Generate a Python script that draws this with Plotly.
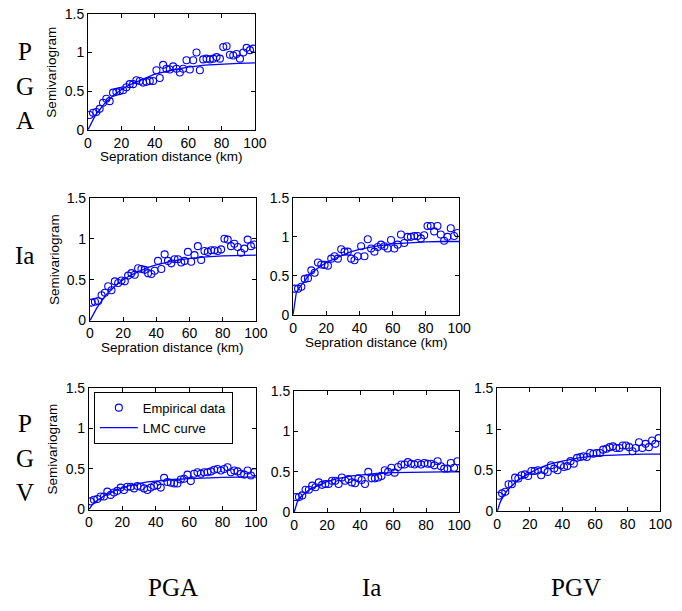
import plotly.graph_objects as go

# Lag distances (km) of the empirical semivariogram bins
lag_km = [1, 3, 5, 7, 9, 11, 13, 15, 17, 19, 21, 23, 25, 27, 29, 31, 33, 35, 37, 39,
          41, 43, 45, 47, 49, 51, 53, 55, 57, 59, 61, 63, 65, 67, 69, 71, 73, 75, 77, 79,
          81, 83, 85, 87, 89, 91, 93, 95, 97, 99]

# Empirical (cross-)semivariogram values
emp_pga_pga = [0.19, 0.22, 0.23, 0.27, 0.35, 0.40, 0.37, 0.48, 0.49, 0.50,
               0.51, 0.55, 0.59, 0.59, 0.64, 0.63, 0.61, 0.62, 0.63, 0.63,
               0.77, 0.67, 0.84, 0.79, 0.78, 0.82, 0.79, 0.74, 0.79, 0.90,
               0.78, 0.90, 1.00, 0.77, 0.91, 0.92, 0.91, 0.92, 0.94, 0.92,
               1.07, 1.08, 0.97, 0.96, 0.98, 0.92, 1.00, 1.06, 1.03, 1.05]
emp_ia_pga = [0.22, 0.23, 0.24, 0.31, 0.34, 0.42, 0.37, 0.48, 0.46, 0.49,
              0.48, 0.55, 0.58, 0.56, 0.64, 0.63, 0.62, 0.58, 0.57, 0.61,
              0.73, 0.63, 0.81, 0.73, 0.70, 0.75, 0.75, 0.71, 0.73, 0.84,
              0.72, 0.80, 0.91, 0.74, 0.85, 0.84, 0.86, 0.86, 0.85, 0.87,
              1.00, 0.99, 0.91, 0.94, 0.90, 0.83, 0.88, 0.99, 0.91, 0.93]
emp_ia_ia = [0.335, 0.335, 0.36, 0.46, 0.47, 0.57, 0.54, 0.67, 0.645, 0.64,
             0.63, 0.72, 0.75, 0.72, 0.84, 0.81, 0.81, 0.72, 0.70, 0.75,
             0.88, 0.75, 0.97, 0.85, 0.81, 0.87, 0.90, 0.88, 0.85, 0.96,
             0.85, 0.90, 1.03, 0.92, 1.00, 1.00, 1.01, 1.01, 0.98, 1.02,
             1.14, 1.14, 1.07, 1.14, 1.03, 0.95, 1.00, 1.11, 1.01, 1.05]
emp_pgv_pga = [0.10, 0.12, 0.13, 0.16, 0.16, 0.22, 0.18, 0.21, 0.23, 0.27,
               0.24, 0.28, 0.28, 0.26, 0.29, 0.28, 0.26, 0.24, 0.27, 0.29,
               0.30, 0.27, 0.39, 0.34, 0.33, 0.32, 0.32, 0.37, 0.38, 0.43,
               0.35, 0.44, 0.46, 0.44, 0.46, 0.46, 0.47, 0.49, 0.50, 0.48,
               0.50, 0.52, 0.46, 0.48, 0.47, 0.44, 0.43, 0.48, 0.42, 0.46]
emp_pgv_ia = [0.19, 0.19, 0.21, 0.28, 0.28, 0.33, 0.31, 0.37, 0.34, 0.35,
              0.35, 0.39, 0.39, 0.35, 0.43, 0.39, 0.41, 0.37, 0.36, 0.42,
              0.40, 0.35, 0.50, 0.42, 0.42, 0.43, 0.45, 0.52, 0.50, 0.55,
              0.49, 0.56, 0.59, 0.59, 0.62, 0.60, 0.59, 0.61, 0.59, 0.61,
              0.60, 0.60, 0.58, 0.63, 0.57, 0.54, 0.54, 0.61, 0.55, 0.63]
emp_pgv_pgv = [0.19, 0.22, 0.24, 0.33, 0.33, 0.41, 0.40, 0.44, 0.45, 0.43,
               0.49, 0.49, 0.50, 0.44, 0.50, 0.48, 0.56, 0.52, 0.50, 0.56,
               0.54, 0.55, 0.61, 0.58, 0.65, 0.66, 0.67, 0.66, 0.71, 0.70,
               0.71, 0.71, 0.75, 0.76, 0.78, 0.79, 0.77, 0.77, 0.80, 0.80,
               0.78, 0.73, 0.77, 0.84, 0.77, 0.82, 0.78, 0.86, 0.82, 0.89]

# Fitted LMC model curves
model_km = [0, 2, 4, 6, 8, 10, 15, 20, 25, 30, 35, 40, 50, 60, 70, 80, 90, 100]
lmc_pga_pga = [0, 0.09, 0.17, 0.23, 0.29, 0.34, 0.44, 0.52, 0.58, 0.63, 0.68, 0.72, 0.77, 0.81, 0.835, 0.85, 0.86, 0.865]
lmc_ia_pga = [0, 0.08, 0.15, 0.21, 0.27, 0.32, 0.42, 0.50, 0.56, 0.61, 0.65, 0.68, 0.73, 0.76, 0.78, 0.79, 0.795, 0.80]
lmc_ia_ia = [0, 0.29, 0.35, 0.41, 0.47, 0.52, 0.60, 0.67, 0.72, 0.77, 0.81, 0.84, 0.88, 0.91, 0.925, 0.935, 0.94, 0.94]
lmc_pgv_pga = [0, 0.06, 0.10, 0.13, 0.16, 0.18, 0.23, 0.27, 0.30, 0.32, 0.34, 0.35, 0.37, 0.38, 0.39, 0.395, 0.40, 0.40]
lmc_pgv_ia = [0, 0.13, 0.19, 0.23, 0.26, 0.29, 0.34, 0.38, 0.41, 0.43, 0.45, 0.46, 0.48, 0.49, 0.495, 0.50, 0.50, 0.50]
lmc_pgv_pgv = [0, 0.12, 0.19, 0.25, 0.29, 0.33, 0.41, 0.47, 0.52, 0.56, 0.59, 0.61, 0.65, 0.675, 0.685, 0.69, 0.695, 0.695]

x_ticks = [0, 20, 40, 60, 80, 100]
y_ticks = [0, 0.5, 1, 1.5]
y_tick_text = ["0", "0.5", "1", "1.5"]
row_names = ["PGA", "Ia", "PGV"]
col_names = ["PGA", "Ia", "PGV"]
x_title = "Sepration distance (km)"
y_title = "Semivariogram"
legend_names = ["Empirical data", "LMC curve"]

W, H = 682, 611
BLUE = "#0000FF"
SANS = "Liberation Sans, Arial, sans-serif"
SERIF = "Liberation Serif, Times New Roman, serif"

# panel boxes in pixels: (left, right, top, bottom)
panels = [
    dict(box=(86, 257, 6, 125), emp=emp_pga_pga, lmc=lmc_pga_pga, ytitle=True, xtitle=True),
    dict(box=(88, 258, 195, 321), emp=emp_ia_pga, lmc=lmc_ia_pga, ytitle=True, xtitle=True),
    dict(box=(296, 466, 195, 315), emp=emp_ia_ia, lmc=lmc_ia_ia, ytitle=False, xtitle=True),
    dict(box=(87, 258, 390, 515), emp=emp_pgv_pga, lmc=lmc_pgv_pga, ytitle=True, xtitle=False),
    dict(box=(297, 466, 393, 518), emp=emp_pgv_ia, lmc=lmc_pgv_ia, ytitle=False, xtitle=False),
    dict(box=(505, 672, 390, 517), emp=emp_pgv_pgv, lmc=lmc_pgv_pgv, ytitle=False, xtitle=False),
]


def px(x):
    return x / W


def py(y):
    return 1 - y / H


fig = go.Figure()
annotations = []
layout = {}

for i, p in enumerate(panels):
    k = "" if i == 0 else str(i + 1)
    l, r, t, b = p["box"]
    show_leg = (i == 3)
    fig.add_trace(go.Scatter(
        x=lag_km, y=p["emp"], mode="markers", name=legend_names[0],
        marker=dict(symbol="circle-open", size=7, color=BLUE, line=dict(width=1.1, color=BLUE)),
        xaxis="x" + k, yaxis="y" + k, showlegend=show_leg))
    fig.add_trace(go.Scatter(
        x=model_km, y=p["lmc"], mode="lines", name=legend_names[1],
        line=dict(color=BLUE, width=1.3),
        xaxis="x" + k, yaxis="y" + k, showlegend=show_leg))

    common = dict(showline=True, linecolor="black", linewidth=1, mirror="ticks",
                  ticks="inside", ticklen=4, tickcolor="black", showgrid=False,
                  zeroline=False, tickfont=dict(family=SANS, size=14, color="black"))
    layout["xaxis" + k] = dict(domain=[px(l), px(r)], anchor="y" + k, range=[0, 100],
                               tickvals=x_ticks, **common)
    layout["yaxis" + k] = dict(domain=[py(b), py(t)], anchor="x" + k, range=[0, 1.5],
                               tickvals=y_ticks, ticktext=y_tick_text, **common)

    if p["ytitle"]:
        annotations.append(dict(text=y_title, x=px(l - 37), y=py((t + b) / 2),
                                xref="paper", yref="paper", textangle=-90, showarrow=False,
                                xanchor="center", yanchor="middle",
                                font=dict(family=SANS, size=13.5, color="black")))
    if p["xtitle"]:
        annotations.append(dict(text=x_title, x=px((l + r) / 2), y=py(b + 28),
                                xref="paper", yref="paper", showarrow=False,
                                xanchor="center", yanchor="middle",
                                font=dict(family=SANS, size=13.5, color="black")))

# row labels, written letter by letter down the left side
row_letters = [
    (list("PGA"), [45, 81, 116]),
    (["Ia"], [254]),
    (list("PGV"), [427, 463, 498]),
]
for letters, ys in row_letters:
    for ch, yy in zip(letters, ys):
        annotations.append(dict(text=ch, x=px(21), y=py(yy), xref="paper", yref="paper",
                                showarrow=False, xanchor="center", yanchor="middle",
                                font=dict(family=SERIF, size=25, color="black")))

# column labels along the bottom
for name, xx in zip(col_names, [173, 376, 586]):
    annotations.append(dict(text=name, x=px(xx), y=py(595), xref="paper", yref="paper",
                            showarrow=False, xanchor="center", yanchor="middle",
                            font=dict(family=SERIF, size=25, color="black")))

fig.update_layout(
    width=W, height=H, margin=dict(l=0, r=0, t=0, b=0),
    paper_bgcolor="white", plot_bgcolor="white",
    annotations=annotations,
    legend=dict(x=px(92), y=py(394), xanchor="left", yanchor="top",
                bgcolor="white", bordercolor="black", borderwidth=1,
                font=dict(family=SANS, size=13, color="black"),
                tracegroupgap=0, itemwidth=38),
    **layout,
)

fig.write_html("out.html")
